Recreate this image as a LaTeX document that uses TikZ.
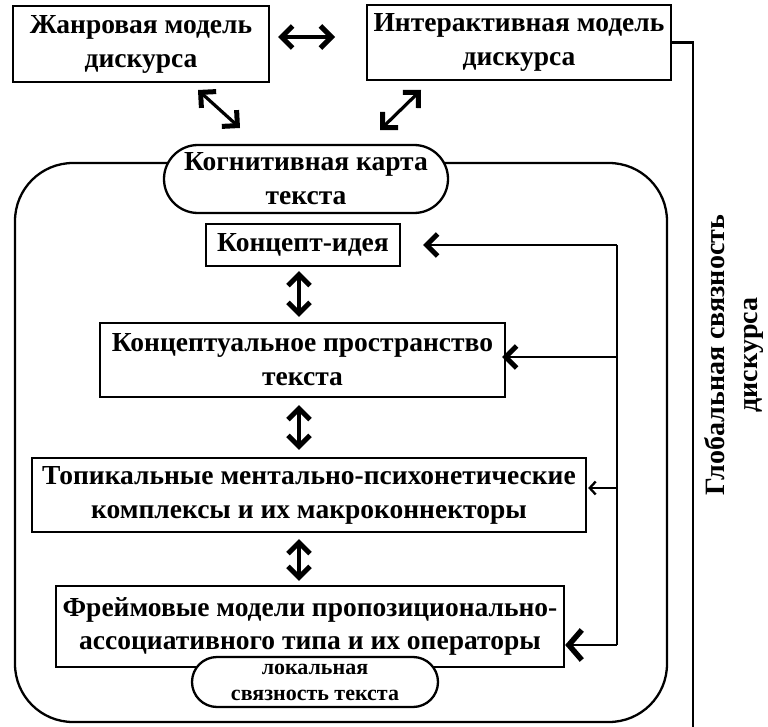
\documentclass[tikz,border=0pt]{standalone}
\usepackage{fontspec}
\setmainfont{Liberation Serif}
\usetikzlibrary{arrows.meta,shapes.misc,calc}
\begin{document}
\begin{tikzpicture}[x=1pt,y=-1pt,
  txt/.style={font=\bfseries\fontsize{27.5}{34}\selectfont, align=center},
  box/.style={txt, draw, line width=2.3pt, inner sep=0pt, fill=white},
  pill/.style={txt, rounded rectangle, draw, line width=2.3pt, inner sep=0pt, fill=white},
  barb/.tip={Straight Barb[length=11pt,width=22pt,line width=5pt 0]},
  bigbarb/.tip={Straight Barb[length=13pt,width=30pt,line width=5.5pt 0]},
  smallbarb/.tip={Straight Barb[length=6pt,width=13pt,line width=2.3pt 0]},
  dbl/.style={barb-barb, line width=3.2pt},
  fb/.style={-barb, line width=2.3pt},
  fbbig/.style={-bigbarb, line width=2.3pt},
  fbthin/.style={-smallbarb, line width=2.3pt}]
\useasboundingbox (0,0) rectangle (768,727);
% outer frame
\node[draw, line width=2.3pt, rounded corners=58pt, minimum width=652pt, minimum height=559pt, inner sep=0pt] (outer) at (341,442.5) {};
% top boxes
\node[box, minimum width=256pt, minimum height=76pt] (b1) at (141,44) {Жанровая модель\\дискурса};
\node[box, minimum width=304pt, minimum height=75pt] (b2) at (519,42.5) {Интерактивная модель\\дискурса};
\node[pill, minimum width=284pt, minimum height=68pt] (cog) at (306,179) {Когнитивная карта\\текста};
% inner boxes
\node[box, minimum width=194pt, minimum height=42pt] (idea) at (303,245) {Концепт-идея};
\node[box, minimum width=405pt, minimum height=74pt] (space) at (302.5,360) {Концептуальное пространство\\текста};
\node[box, minimum width=554pt, minimum height=74pt] (topic) at (309,495) {Топикальные ментально-психонетические\\комплексы и их макроконнекторы};
\node[box, font=\bfseries\fontsize{27.5}{33}\selectfont, minimum width=508pt, minimum height=81pt] (frm) at (310,626.5) {Фреймовые модели пропозиционально-\\ассоциативного типа и их операторы};
\node[pill, font=\bfseries\fontsize{22}{26}\selectfont, minimum width=246pt, minimum height=50pt] (loc) at (315,682) {локальная\\связность текста};
% global coherence
\node[txt, rotate=90, font=\bfseries\fontsize{28}{33}\selectfont] (glob) at (734,355) {Глобальная связность\\дискурса};
% coordinates
\coordinate (h1) at (278,37);
\coordinate (h2) at (335,37);
\coordinate (d1a) at (198,90);
\coordinate (d1b) at (240,128);
\coordinate (d2a) at (421,90);
\coordinate (d2b) at (380,130);
\coordinate (gbot) at (693,727);
\coordinate (fb1) at (617,245);
\coordinate (fb2) at (617,357);
\coordinate (fb3) at (617,488);
\coordinate (fb4) at (617,645);
% arrows at top
\draw[dbl] (h1) -- (h2);
\draw[dbl] (d1a) -- (d1b);
\draw[dbl] (d2a) -- (d2b);
% global line
\draw[line width=2.3pt] (b2.east) -| (gbot);
% vertical double arrows
\draw[dbl, shorten <=4pt, shorten >=5pt] (idea.south -| 299,0) -- (space.north -| 299,0);
\draw[dbl, shorten <=7pt, shorten >=7pt] (space.south -| 299,0) -- (topic.north -| 299,0);
\draw[dbl, shorten <=6pt, shorten >=4pt] (topic.south -| 299,0) -- (frm.north -| 299,0);
% feedback
\draw[line width=2.3pt] (fb1) -- (fb4);
\draw[fb, shorten >=22pt] (fb1) -- (idea.east |- fb1);
\draw[fb, shorten >=-4pt] (fb2) -- (space.east |- fb2);
\draw[fbthin, shorten >=1pt] (fb3) -- (topic.east |- fb3);
\draw[fbbig] (fb4) -- (frm.east |- fb4);
\end{tikzpicture}
\end{document}
